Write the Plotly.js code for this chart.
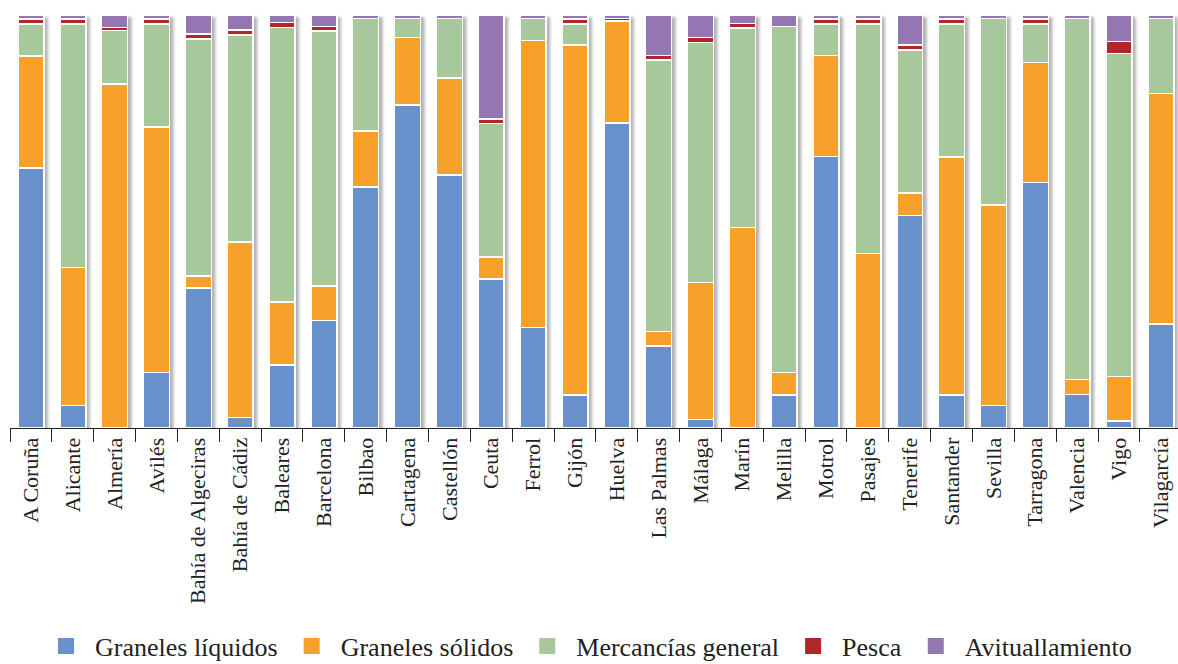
<!DOCTYPE html>
<html>
<head>
<meta charset="utf-8">
<script src="https://cdn.plot.ly/plotly-3.0.1.min.js"></script>
<style>
  html, body { margin: 0; padding: 0; background: #ffffff; overflow: hidden; }
  #chart { width: 1178px; height: 664px; }
</style>
</head>
<body>
<div id="chart"></div>
<script>
const ports = ['A Coruña','Alicante','Almería','Avilés','Bahía de Algeciras','Bahía de Cádiz','Baleares','Barcelona','Bilbao','Cartagena','Castellón','Ceuta','Ferrol','Gijón','Huelva','Las Palmas','Málaga','Marín','Melilla','Motrol','Pasajes','Tenerife','Santander','Sevilla','Tarragona','Valencia','Vigo','Vilagarcía'];

const granelesLiquidos = [62.9,5.4,0,13.5,33.9,2.6,15.2,26.0,58.4,78.2,61.3,36.0,24.3,8.0,73.8,19.8,2.1,0,8.0,65.7,0,51.4,8.0,5.4,59.4,8.1,1.7,25.2];
const granelesSolidos  = [27.2,33.5,83.3,59.4,2.9,42.4,15.3,8.4,13.5,16.3,23.4,5.4,69.5,84.7,24.7,3.6,33.1,48.6,5.4,24.5,42.2,5.5,57.6,48.6,29.1,3.6,10.8,55.8];
const mercanciasGeneral = [7.7,58.9,12.9,24.9,57.4,50.2,66.5,61.7,27.3,4.7,14.5,32.2,5.4,5.1,0,65.7,58.2,48.3,83.8,7.6,55.6,34.6,32.2,45.1,9.3,87.5,78.2,18.2];
const pesca = [1.2,1.2,0.8,1.2,1.2,1.2,1.2,1.1,0,0,0,1.1,0,1.2,0.7,1.1,1.1,1.0,0,1.2,1.2,1.2,1.2,0,1.2,0,2.9,0];
const avituallamiento = [1.0,1.0,3.0,1.0,4.6,3.6,1.8,2.8,0.8,0.8,0.8,25.2,0.8,1.0,0.8,9.8,5.5,2.1,2.8,1.0,1.0,7.3,1.0,0.9,1.0,0.8,6.4,0.8];

const seriesNames = ['Graneles líquidos','Graneles sólidos','Mercancías general','Pesca','Avituallamiento'];
const seriesValues = [granelesLiquidos, granelesSolidos, mercanciasGeneral, pesca, avituallamiento];
const seriesColors = ['#6891CC','#F7A02A','#A7C89B','#B2252B','#9476B2'];

const FONT = '"Liberation Serif", "DejaVu Serif", serif';

const traces = [];
seriesNames.forEach((name, i) => {
  traces.push({
    type: 'bar',
    name: name,
    x: ports,
    y: seriesValues[i],
    marker: { color: seriesColors[i], line: { color: '#ffffff', width: 1.5 } },
    showlegend: false,
    legendgroup: name,
    hoverinfo: 'skip'
  });
});
// legend entries (larger square swatches, like the reference)
seriesNames.forEach((name, i) => {
  traces.push({
    type: 'scatter',
    mode: 'markers',
    name: name,
    x: [null],
    y: [null],
    marker: { color: seriesColors[i], symbol: 'square', size: 16 },
    showlegend: true,
    legendgroup: name,
    hoverinfo: 'skip'
  });
});

const layout = {
  width: 1178,
  height: 664,
  margin: { l: 10, r: 0, t: 15, b: 236, autoexpand: false },
  paper_bgcolor: '#ffffff',
  plot_bgcolor: '#ffffff',
  barmode: 'stack',
  barnorm: 'percent',
  bargap: 0.38,
  font: { family: FONT, color: '#222222' },
  xaxis: {
    type: 'category',
    range: [-0.5, 27.41],
    showline: true,
    linecolor: '#222222',
    linewidth: 1,
    ticks: 'outside',
    tickson: 'boundaries',
    ticklen: 13,
    tickcolor: '#222222',
    tickwidth: 1,
    tickangle: -90,
    tickfont: { family: FONT, size: 22, color: '#222222' },
    showgrid: false,
    zeroline: false,
    fixedrange: true
  },
  yaxis: {
    range: [0, 100],
    visible: false,
    showgrid: false,
    zeroline: false,
    fixedrange: true
  },
  showlegend: true,
  legend: {
    orientation: 'h',
    x: 0.0231,
    xanchor: 'left',
    y: -0.528,
    yanchor: 'middle',
    itemwidth: 48,
    font: { family: FONT, size: 26, color: '#222222' },
    itemclick: false,
    itemdoubleclick: false,
    traceorder: 'normal'
  }
};

// soft drop shadow to the right of each bar, built from the library's own bar paths
function addShadow() {
  const ns = 'http://www.w3.org/2000/svg';
  const gd = document.getElementById('chart');
  if (gd.querySelector('g.bar-shadow')) return;
  const bl = gd.querySelector('g.barlayer');
  if (!bl) return;
  const svg = gd.querySelector('svg.main-svg');
  let defs = svg.querySelector('defs');
  if (defs && !defs.querySelector('#barblur')) {
    const f = document.createElementNS(ns, 'filter');
    f.setAttribute('id', 'barblur');
    f.setAttribute('x', '-20%'); f.setAttribute('y', '-20%');
    f.setAttribute('width', '140%'); f.setAttribute('height', '140%');
    const b = document.createElementNS(ns, 'feGaussianBlur');
    b.setAttribute('stdDeviation', '1.8');
    f.appendChild(b);
    defs.appendChild(f);
  }
  const g = document.createElementNS(ns, 'g');
  g.setAttribute('class', 'bar-shadow');
  g.setAttribute('transform', 'translate(4,2)');
  g.setAttribute('filter', 'url(#barblur)');
  bl.querySelectorAll('g.point path').forEach(p => {
    const c = document.createElementNS(ns, 'path');
    c.setAttribute('d', p.getAttribute('d'));
    const pg = p.closest('g.trace');
    if (pg && pg.getAttribute('transform')) c.setAttribute('transform', pg.getAttribute('transform'));
    c.setAttribute('fill', '#000000');
    c.setAttribute('fill-opacity', '0.3');
    c.setAttribute('stroke', 'none');
    g.appendChild(c);
  });
  bl.parentNode.insertBefore(g, bl);
}

const p = Plotly.newPlot('chart', traces, layout, { staticPlot: true, displayModeBar: false });
addShadow();
if (p && p.then) p.then(addShadow);
</script>
</body>
</html>
